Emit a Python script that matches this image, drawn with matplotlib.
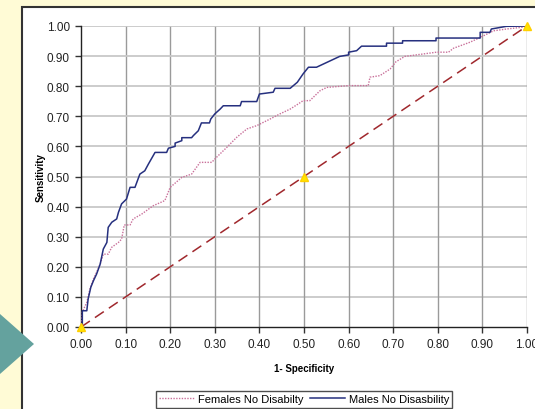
import matplotlib
matplotlib.use("Agg")
import matplotlib.pyplot as plt
from matplotlib.patches import Rectangle, Polygon

plt.rcParams['font.family'] = ['Liberation Sans', 'DejaVu Sans']

# ROC curve vertices (1-specificity, sensitivity)
males_x = [0, 0.003, 0.003, 0.013, 0.016, 0.022, 0.028, 0.035, 0.043, 0.05,
           0.058, 0.061, 0.069, 0.08, 0.084, 0.091, 0.102, 0.11, 0.121, 0.132,
           0.143, 0.151, 0.166, 0.192, 0.196, 0.211, 0.211, 0.226, 0.226, 0.248,
           0.252, 0.263, 0.27, 0.288, 0.291, 0.30, 0.312, 0.319, 0.357, 0.36,
           0.394, 0.40, 0.431, 0.435, 0.469, 0.485, 0.498, 0.51, 0.528, 0.58,
           0.60, 0.60, 0.618, 0.629, 0.685, 0.685, 0.721, 0.721, 0.796, 0.796,
           0.895, 0.895, 0.917, 0.92, 0.954, 1.0]
males_y = [0, 0, 0.054, 0.054, 0.093, 0.132, 0.154, 0.176, 0.209, 0.259,
           0.281, 0.331, 0.348, 0.359, 0.381, 0.409, 0.425, 0.464, 0.464, 0.508,
           0.519, 0.541, 0.58, 0.58, 0.594, 0.60, 0.611, 0.619, 0.629, 0.629,
           0.636, 0.652, 0.678, 0.678, 0.691, 0.708, 0.724, 0.735, 0.735, 0.749,
           0.749, 0.774, 0.78, 0.793, 0.793, 0.813, 0.841, 0.863, 0.863, 0.899,
           0.904, 0.913, 0.918, 0.933, 0.933, 0.943, 0.943, 0.951, 0.951, 0.96,
           0.96, 0.979, 0.979, 0.99, 0.999, 1.0]

females_x = [0, 0.003, 0.013, 0.02, 0.028, 0.035, 0.043, 0.05, 0.061, 0.069,
             0.084, 0.091, 0.097, 0.11, 0.117, 0.136, 0.162, 0.188, 0.20, 0.226,
             0.248, 0.267, 0.293, 0.304, 0.327, 0.349, 0.372, 0.394, 0.409, 0.424,
             0.446, 0.469, 0.487, 0.498, 0.513, 0.536, 0.551, 0.60, 0.644, 0.648,
             0.67, 0.693, 0.706, 0.726, 0.767, 0.797, 0.824, 0.835, 0.872, 0.895,
             0.925, 0.954, 0.99, 1.0]
females_y = [0, 0.05, 0.082, 0.126, 0.16, 0.182, 0.209, 0.242, 0.242, 0.265,
             0.281, 0.292, 0.339, 0.339, 0.359, 0.375, 0.403, 0.42, 0.464, 0.497,
             0.508, 0.547, 0.547, 0.564, 0.597, 0.63, 0.658, 0.669, 0.68, 0.691,
             0.708, 0.724, 0.741, 0.752, 0.752, 0.785, 0.796, 0.802, 0.802, 0.83,
             0.835, 0.857, 0.881, 0.899, 0.907, 0.913, 0.913, 0.926, 0.946, 0.962,
             0.984, 0.99, 0.996, 1.0]

# reference line with its marked points
ref_x = [0, 0.5, 1.0]
ref_y = [0, 0.5, 1.0]

ticks = [i / 10 for i in range(11)]

W, H = 535, 410
fig = plt.figure(figsize=(W / 100, H / 100), dpi=100)
fig.patch.set_facecolor('#FFFBD6')

# white chart panel with dark border
fig.patches.append(Rectangle((22 / W, -0.05), 1.1, (H - 8) / H + 0.05,
                             transform=fig.transFigure, facecolor='white',
                             edgecolor='#333333', linewidth=1.5, zorder=-2))
# teal arrow on the left
fig.patches.append(Polygon([(0, 1 - 315 / H), (34 / W, 1 - 345 / H), (0, 1 - 375 / H)],
                           closed=True, transform=fig.transFigure,
                           facecolor='#64A29E', edgecolor='none', zorder=-1))

ax = fig.add_axes([81 / W, 1 - 328 / H, (527 - 81) / W, (328 - 27) / H])
ax.set_facecolor('none')
ax.set_zorder(2)

ax.set_xlim(0, 1)
ax.set_ylim(0, 1)
ax.set_xticks(ticks)
ax.set_yticks(ticks)
ax.set_xticklabels(['%.2f' % t for t in ticks])
ax.set_yticklabels(['%.2f' % t for t in ticks])
ax.tick_params(direction='out', length=4, width=1, color='#333333',
               labelsize=8.5, labelcolor='#222222', pad=4)

for t in ticks[1:]:
    ax.axvline(t, color='#9a9a9a', linewidth=1, zorder=1)
    ax.axhline(t, color='#c8c8c8', linewidth=1.3, zorder=1)

for s in ['top', 'right']:
    ax.spines[s].set_visible(False)
for s in ['left', 'bottom']:
    ax.spines[s].set_color('#222222')
    ax.spines[s].set_linewidth(1)

ax.plot(ref_x, ref_y, color='#A0282D', linestyle=(0, (7, 4)), linewidth=1.1,
        zorder=3)
ax.plot(ref_x, ref_y, linestyle='none', marker='^', markersize=6,
        color='#FFE400', markeredgecolor='#FFD000', zorder=6, clip_on=False)

fem, = ax.plot(females_x, females_y, color='#C9709A', linestyle=(0, (1, 1)),
               linewidth=1, zorder=4, label='Females No Disabilty')
mal, = ax.plot(males_x, males_y, color='#26307F', linewidth=1.1, zorder=5,
               label='Males No Disasbility')

ax.set_xlabel('1- Specificity', fontsize=7, fontweight='bold', labelpad=9)
ax.set_ylabel('Sensitivity', fontsize=7, fontweight='bold', labelpad=1)

leg = fig.legend(handles=[fem, mal], loc='upper center',
                 bbox_to_anchor=(304 / W, 1 - 392 / H), ncol=2, fontsize=8,
                 frameon=True, fancybox=False, edgecolor='#222222',
                 handlelength=3.2, handletextpad=0.3, columnspacing=0.6,
                 borderpad=0.3, borderaxespad=0)
leg.get_frame().set_linewidth(1)

fig.savefig('out.png', dpi=100, facecolor=fig.get_facecolor())
